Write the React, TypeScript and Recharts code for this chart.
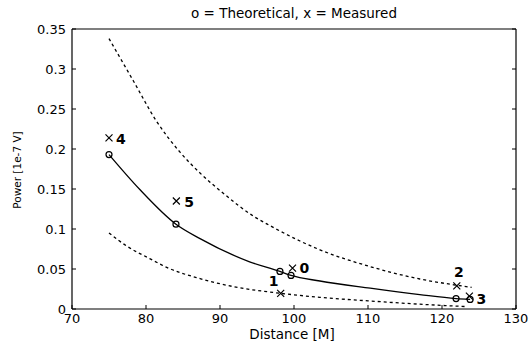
import { ComposedChart, Line, Scatter, XAxis, YAxis } from 'recharts'

const xTicks = [70, 80, 90, 100, 110, 120, 130]
const yTicks = [0, 0.05, 0.1, 0.15, 0.2, 0.25, 0.3, 0.35]

// numbered measurement points
const pointIds = ['0', '1', '2', '3', '4', '5']
const measuredDist = [99.8, 98.2, 122, 123.7, 75, 84.1]
const measuredPower = [0.051, 0.0196, 0.029, 0.016, 0.214, 0.135]
const theoryDist = [99.6, 98.1, 121.9, 123.8, 75, 84.05]
const theoryPower = [0.042, 0.047, 0.013, 0.012, 0.193, 0.106]

// theoretical curve (solid)
const curveDist = [75, 79.2, 84.05, 87.3, 94, 98.1, 99.6, 103.5, 110.3, 117, 121.9, 123.8]
const curvePower = [0.193, 0.149, 0.106, 0.088, 0.059, 0.047, 0.042, 0.035, 0.026, 0.018, 0.013, 0.012]

// bounds (dashed)
const upperDist = [75, 78.3, 81.4, 84.6, 87.3, 90.4, 94.7, 96.8, 100.8, 103.5, 110.3, 117, 121.8, 124]
const upperPower = [0.338, 0.285, 0.235, 0.196, 0.17, 0.145, 0.115, 0.104, 0.085, 0.074, 0.053, 0.0375, 0.03, 0.027]
const lowerDist = [75, 77.5, 80.5, 82.8, 87.3, 91.8, 98.2, 103.5, 110.3, 117, 123.3]
const lowerPower = [0.095, 0.078, 0.063, 0.052, 0.038, 0.028, 0.0196, 0.0146, 0.01, 0.006, 0.003]

const zip = (xs: number[], ys: number[]) => xs.map((x, i) => ({ x, y: ys[i] }))

const measured = pointIds.map((id, i) => ({ id, x: measuredDist[i], y: measuredPower[i] }))
const theory = zip(theoryDist, theoryPower)
const curve = zip(curveDist, curvePower)
const upper = zip(upperDist, upperPower)
const lower = zip(lowerDist, lowerPower)

const labelPlace: Record<string, { dx: number; dy: number; anchor: 'start' | 'middle' }> = {
  '0': { dx: 7, dy: 0, anchor: 'start' },
  '1': { dx: -7, dy: -12, anchor: 'middle' },
  '2': { dx: 2, dy: -14, anchor: 'middle' },
  '3': { dx: 7, dy: 3, anchor: 'start' },
  '4': { dx: 7, dy: 1, anchor: 'start' },
  '5': { dx: 8, dy: 1, anchor: 'start' },
}

const font = 'DejaVu Sans'

const Circle = (props: any) => {
  const { cx, cy } = props
  return <circle cx={cx} cy={cy} r={3} fill="none" stroke="#000" strokeWidth={1.2} />
}

const Cross = (props: any) => {
  const { cx, cy, payload } = props
  const p = labelPlace[payload.id]
  const s = 3.5
  return (
    <g>
      <path
        d={`M${cx - s},${cy - s}L${cx + s},${cy + s}M${cx - s},${cy + s}L${cx + s},${cy - s}`}
        stroke="#000"
        strokeWidth={1.2}
      />
      <text
        x={cx + p.dx}
        y={cy + p.dy}
        textAnchor={p.anchor}
        dominantBaseline="central"
        fontFamily={font}
        fontWeight="bold"
        fontSize={14}
        fill="#000"
      >
        {payload.id}
      </text>
    </g>
  )
}

const NoLabel = () => <g />

export default function App() {
  const tickStyle = { fill: '#000', fontSize: 13, fontFamily: font }
  const frame = { stroke: '#000', strokeWidth: 1.2 }
  return (
    <div style={{ position: 'relative', width: 532, height: 347, background: '#fff' }}>
      <style>{'body{margin:0}'}</style>
      <ComposedChart width={532} height={347} margin={{ top: 29, right: 16, bottom: 0, left: 0 }}>
        {/* top / right side of the box, ticks pointing in */}
        <XAxis xAxisId="xt" type="number" domain={[70, 130]} ticks={xTicks} orientation="top" mirror
          tick={NoLabel} tickSize={4} axisLine={frame} tickLine={{ stroke: '#000' }} allowDataOverflow />
        <YAxis yAxisId="yr" type="number" domain={[0, 0.35]} ticks={yTicks} orientation="right" mirror
          tick={NoLabel} tickSize={4} axisLine={frame} tickLine={{ stroke: '#000' }} allowDataOverflow />

        {/* negative tickSize = ticks inside the plot */}
        <XAxis dataKey="x" type="number" domain={[70, 130]} ticks={xTicks} height={38}
          tickSize={-4} tickMargin={9} tickLine={{ stroke: '#000' }} axisLine={frame}
          tick={tickStyle} allowDataOverflow />
        <YAxis dataKey="y" type="number" domain={[0, 0.35]} ticks={yTicks} width={72}
          tickSize={-4} tickMargin={10} tickLine={{ stroke: '#000' }} axisLine={frame}
          tick={tickStyle} tickFormatter={(v) => String(v)} allowDataOverflow />

        <Line data={upper} dataKey="y" type="monotone" stroke="#000" strokeWidth={1.3}
          strokeDasharray="3 3" dot={false} isAnimationActive={false} />
        <Line data={lower} dataKey="y" type="monotone" stroke="#000" strokeWidth={1.3}
          strokeDasharray="3 3" dot={false} isAnimationActive={false} />
        <Line data={curve} dataKey="y" type="monotone" stroke="#000" strokeWidth={1.3}
          dot={false} isAnimationActive={false} />
        <Scatter data={theory} shape={Circle} isAnimationActive={false} />
        <Scatter data={measured} shape={Cross} isAnimationActive={false} />
      </ComposedChart>

      <div style={{ position: 'absolute', left: 294, top: 14, transform: 'translate(-50%,-50%)',
        whiteSpace: 'nowrap', fontFamily: font, fontSize: 13.5, lineHeight: 1 }}>
        o = Theoretical, x = Measured
      </div>
      <div style={{ position: 'absolute', left: 292, top: 335, transform: 'translate(-50%,-50%)',
        whiteSpace: 'nowrap', fontFamily: font, fontSize: 13.5, lineHeight: 1 }}>
        Distance [M]
      </div>
      <div style={{ position: 'absolute', left: 17, top: 170, transform: 'translate(-50%,-50%) rotate(-90deg)',
        whiteSpace: 'nowrap', fontFamily: font, fontSize: 10.5, lineHeight: 1 }}>
        Power [1e-7 V]
      </div>
    </div>
  )
}
